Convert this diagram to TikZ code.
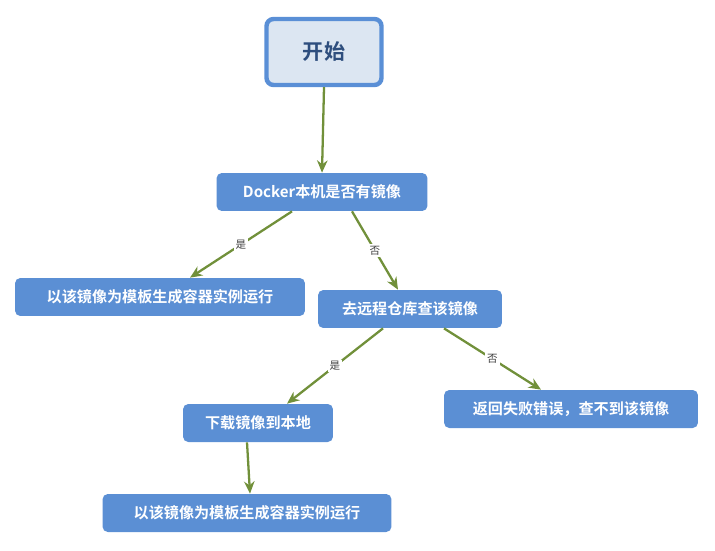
\documentclass[tikz,border=0pt]{standalone}
\usepackage{fontspec}
\setmainfont{Noto Sans CJK SC}
\newfontfamily\cjkb{Noto Sans CJK SC Bold}
\usetikzlibrary{arrows.meta}
\definecolor{nodeblue}{HTML}{5B8FD4}
\definecolor{startfill}{HTML}{DCE6F2}
\definecolor{startborder}{HTML}{5A8FD6}
\definecolor{startText}{HTML}{2E4E7E}
\definecolor{edgegreen}{HTML}{71903A}
\begin{document}
\begin{tikzpicture}[x=0.02cm,y=-0.02cm,
  box/.style={draw=none,fill=nodeblue,rounded corners=3pt,text=white,font=\cjkb\fontsize{8.6}{10}\selectfont,minimum height=0.76cm,inner sep=0pt},
  arr/.style={draw=edgegreen,line width=1.3pt,-{Stealth[length=7pt,width=6pt]}},
  lab/.style={font=\fontsize{6}{7}\selectfont\itshape,text=black!75,fill=white,inner sep=1pt}]
\useasboundingbox (0,0) rectangle (715,550);
\node[draw=startborder,line width=2.5pt,fill=startfill,rounded corners=4pt,minimum width=2.3cm,minimum height=1.32cm,text=startText,font=\cjkb\fontsize{12}{14}\selectfont] (start) at (324,52) {开始};
\node[box,minimum width=4.22cm] (docker) at (322,192) {Docker本机是否有镜像};
\node[box,minimum width=5.8cm] (left) at (160,297) {以该镜像为模板生成容器实例运行};
\node[box,minimum width=3.68cm] (remote) at (410,309) {去远程仓库查该镜像};
\node[box,minimum width=3.0cm] (down) at (258,423) {下载镜像到本地};
\node[box,minimum width=5.08cm] (fail) at (571,409) {返回失败错误，查不到该镜像};
\node[box,minimum width=5.78cm] (bottom) at (247,513) {以该镜像为模板生成容器实例运行};
\draw[arr] (start.south) -- (docker.north);
\draw[arr] ([xshift=-0.6cm]docker.south) -- node[lab]{是} ([xshift=0.6cm]left.north);
\draw[arr] ([xshift=0.6cm]docker.south) -- node[lab]{否} ([xshift=-0.24cm]remote.north);
\draw[arr] ([xshift=-0.54cm]remote.south) -- node[lab]{是} ([xshift=0.58cm]down.north);
\draw[arr] ([xshift=0.68cm]remote.south) -- node[lab]{否} ([xshift=-0.6cm]fail.north);
\draw[arr] ([xshift=-0.22cm]down.south) -- ([xshift=0.06cm]bottom.north);
\end{tikzpicture}
\end{document}
